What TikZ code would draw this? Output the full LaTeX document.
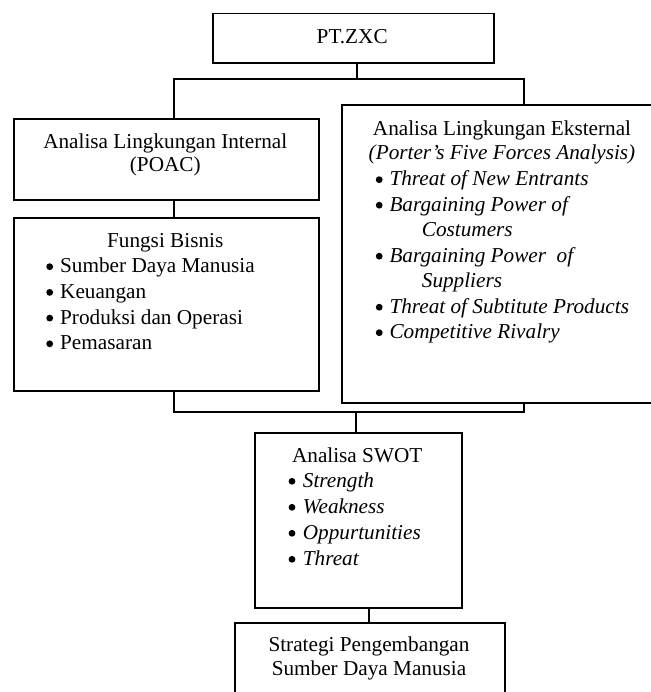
\documentclass[tikz,border=0pt]{standalone}
\usepackage{fontspec}
\setmainfont{Liberation Serif}
\newcommand\dgfont{\fontsize{21.3}{24}\selectfont}
\begin{document}
\begin{tikzpicture}[x=1bp,y=-1bp,
  box/.style={draw=black, line width=1.8bp, inner sep=0pt, anchor=north west},
  lbl/.style={inner sep=0pt, font=\dgfont, anchor=base, text=black},
  rom/.style={inner sep=0pt, font=\dgfont, anchor=base west, text=black},
  itm/.style={inner sep=0pt, font=\dgfont\itshape, anchor=base west, text=black},
  conn/.style={draw=black, line width=1.8bp, line cap=rect, line join=miter}]
\useasboundingbox (0,0) rectangle (651,692);
\fill[white] (0,0) rectangle (651,692);
\clip (0,0) rectangle (651,692);

% boxes
\node[box, minimum width=281bp, minimum height=49.6bp] (pt) at (211.7,12.7) {};
\node[box, minimum width=305bp, minimum height=80.7bp] (int) at (12.7,118.3) {};
\node[box, minimum width=305bp, minimum height=173.3bp] (fun) at (12.7,216.7) {};
\node[box, minimum width=321bp, minimum height=297.5bp] (ext) at (341.2,104.5) {};
\node[box, minimum width=206.4bp, minimum height=175bp] (swot) at (254.3,432.3) {};
\node[box, minimum width=270bp, minimum height=100bp] (str) at (234,622.3) {};

% junction coordinates
\coordinate (tl) at (174,79);
\coordinate (tm) at (356.6,79);
\coordinate (tr) at (524,79);
\coordinate (bl) at (174,412.3);
\coordinate (bm) at (356.3,412.3);
\coordinate (br) at (524,412.3);
\coordinate (sm) at (369,520);

% connectors
\draw[conn] (pt.south -| tm) -- (tm);
\draw[conn] (int.north -| tl) -- (tl) -- (tr) -- (ext.north -| tr);
\draw[conn] (int.south -| tl) -- (fun.north -| tl);
\draw[conn] (fun.south -| bl) -- (bl) -- (br) -- (ext.south -| br);
\draw[conn] (bm) -- (swot.north -| bm);
\draw[conn] (swot.south -| sm) -- (str.north -| sm);

% PT
\node[lbl] (ptT) at (352.2,43.3) {PT.ZXC};

% Internal
\node[lbl] (intT1) at (165.3,148.3) {Analisa Lingkungan Internal};
\node[lbl] (intT2) at (165.3,171.7) {(POAC)};

% Fungsi Bisnis
\node[lbl] (funT) at (165.2,247) {Fungsi Bisnis};
\foreach \t [count=\i] in {Sumber Daya Manusia, Keuangan, Produksi dan Operasi, Pemasaran} {
  \pgfmathsetmacro\yb{272.7+25.7*(\i-1)}
  \fill (49.7,\yb-6) circle[radius=3.4bp];
  \node[rom] (fun\i) at (60,\yb) {\t};
}

% External
\node[lbl] (extT1) at (502,135.7) {Analisa Lingkungan Eksternal};
\node[lbl, font=\dgfont\itshape] (extT2) at (502,159.3) {(Porter’s Five Forces Analysis)};
\foreach \y in {185.7, 211.2, 262.2, 313.2, 338.7} {
  \fill (379.2,\y-6) circle[radius=3.4bp];
}
\node[itm] (ext1) at (389.3,185.7) {Threat of New Entrants};
\node[itm] (ext2) at (389.3,211.2) {Bargaining Power of};
\node[itm] (ext2b) at (421.7,236.7) {Costumers};
\node[itm] (ext3) at (389.3,262.2) {Bargaining Power~ of};
\node[itm] (ext3b) at (421.7,287.7) {Suppliers};
\node[itm] (ext4) at (389.3,313.2) {Threat of Subtitute Products};
\node[itm] (ext5) at (389.3,338.7) {Competitive Rivalry};

% SWOT
\node[lbl] (swotT) at (357.2,462.3) {Analisa SWOT};
\foreach \t [count=\i] in {Strength, Weakness, Oppurtunities, Threat} {
  \pgfmathsetmacro\yb{487.3+26*(\i-1)}
  \fill (292,\yb-6) circle[radius=3.4bp];
  \node[itm] (swot\i) at (302.7,\yb) {\t};
}

% Strategi
\node[lbl] (strT1) at (369,651.7) {Strategi Pengembangan};
\node[lbl] (strT2) at (369,675.7) {Sumber Daya Manusia};
\end{tikzpicture}
\end{document}
